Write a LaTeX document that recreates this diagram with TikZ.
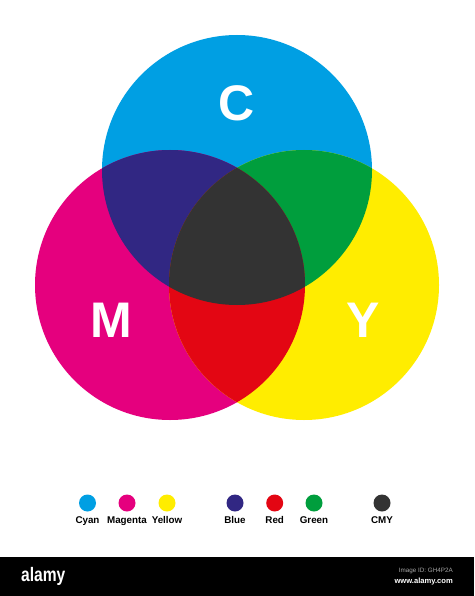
\documentclass[tikz,border=0pt]{standalone}
\usepackage{fontspec}
\setmainfont{Liberation Sans}
\definecolor{cC}{RGB}{0,159,227}
\definecolor{cM}{RGB}{229,0,126}
\definecolor{cY}{RGB}{255,237,0}
\definecolor{cB}{RGB}{49,39,131}
\definecolor{cR}{RGB}{227,6,19}
\definecolor{cG}{RGB}{0,158,61}
\definecolor{cK}{RGB}{51,51,51}
\begin{document}
\begin{tikzpicture}[x=1pt,y=-1pt,
  big/.style={text=white,font=\fontsize{50}{50}\selectfont\bfseries},
  dot/.style={circle,minimum size=17pt,inner sep=0pt},
  lab/.style={font=\fontsize{9.8}{10}\selectfont\bfseries,text=black,inner sep=0pt,anchor=base},
  every node/.style={inner sep=0pt}]
\useasboundingbox (0,0) rectangle (474,596);
\fill[white] (0,0) rectangle (474,596);
\def\rr{135}
\coordinate (Cc) at (237,170);
\coordinate (Mc) at (170,285);
\coordinate (Yc) at (304,285);
\fill[cC] (Cc) circle[radius=\rr];
\fill[cM] (Mc) circle[radius=\rr];
\fill[cY] (Yc) circle[radius=\rr];
\begin{scope}
  \clip (Cc) circle[radius=\rr];
  \fill[cB] (Mc) circle[radius=\rr];
  \fill[cG] (Yc) circle[radius=\rr];
\end{scope}
\begin{scope}
  \clip (Mc) circle[radius=\rr];
  \fill[cR] (Yc) circle[radius=\rr];
  \clip (Yc) circle[radius=\rr];
  \fill[cK] (Cc) circle[radius=\rr];
\end{scope}
\node[big] (tC) at (237,103) {C};
\node[big] (tM) at (111,320) {M};
\node[big] (tY) at (363,320) {Y};
% legend
\foreach \nm/\xx/\cc/\tt in {lc/87.5/cC/Cyan, lm/127/cM/Magenta, ly/167/cY/Yellow, lb/235/cB/Blue, lr/274.7/cR/Red, lg/314/cG/Green, lk/382/cK/CMY}{
  \node[dot,fill=\cc] (\nm) at (\xx,503) {};
  \node[lab] (\nm t) at (\xx,523) {\tt};
}
% footer bar
\fill[black] (0,557) rectangle (474,596);
\node[text=white,font=\fontsize{19.5}{20}\selectfont\bfseries,anchor=west,xscale=0.8] (fa) at (21,576) {alamy};
\node[text=gray!70,font=\fontsize{6.3}{7}\selectfont,anchor=east] (fi) at (453,571) {Image ID: GH4P2A};
\node[text=white,font=\fontsize{7.6}{8}\selectfont\bfseries,anchor=east] (fw) at (453,581.5) {www.alamy.com};
\end{tikzpicture}
\end{document}
